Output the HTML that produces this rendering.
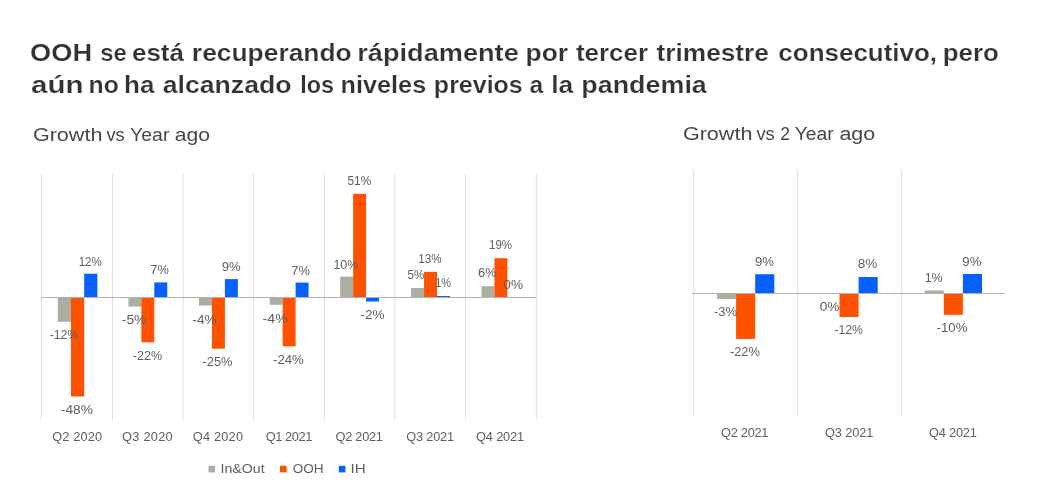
<!DOCTYPE html>
<html><head><meta charset="utf-8"><style>
html,body{margin:0;padding:0;background:#fff;}
body{width:1039px;height:500px;overflow:hidden;position:relative;font-family:"Liberation Sans",sans-serif;}
svg{position:absolute;left:0;top:0;will-change:transform;}
text{font-family:"Liberation Sans",sans-serif;}
</style></head><body>
<svg width="1039" height="500" viewBox="0 0 1039 500">
<text x="30.11" y="60.60" font-size="24.5" font-weight="bold" fill="#333333" textLength="61.93" lengthAdjust="spacingAndGlyphs" stroke="#fff" stroke-width="0.2">OOH</text>
<text x="100.17" y="60.60" font-size="24.5" font-weight="bold" fill="#333333" textLength="26.53" lengthAdjust="spacingAndGlyphs" stroke="#fff" stroke-width="0.2">se</text>
<text x="131.96" y="60.60" font-size="24.5" font-weight="bold" fill="#333333" textLength="51.95" lengthAdjust="spacingAndGlyphs" stroke="#fff" stroke-width="0.2">está</text>
<text x="191.88" y="60.60" font-size="24.5" font-weight="bold" fill="#333333" textLength="159.83" lengthAdjust="spacingAndGlyphs" stroke="#fff" stroke-width="0.2">recuperando</text>
<text x="357.23" y="60.60" font-size="24.5" font-weight="bold" fill="#333333" textLength="161.56" lengthAdjust="spacingAndGlyphs" stroke="#fff" stroke-width="0.2">rápidamente</text>
<text x="525.58" y="60.60" font-size="24.5" font-weight="bold" fill="#333333" textLength="42.54" lengthAdjust="spacingAndGlyphs" stroke="#fff" stroke-width="0.2">por</text>
<text x="575.94" y="60.60" font-size="24.5" font-weight="bold" fill="#333333" textLength="72.04" lengthAdjust="spacingAndGlyphs" stroke="#fff" stroke-width="0.2">tercer</text>
<text x="656.54" y="60.60" font-size="24.5" font-weight="bold" fill="#333333" textLength="112.38" lengthAdjust="spacingAndGlyphs" stroke="#fff" stroke-width="0.2">trimestre</text>
<text x="778.36" y="60.60" font-size="24.5" font-weight="bold" fill="#333333" textLength="158.70" lengthAdjust="spacingAndGlyphs" stroke="#fff" stroke-width="0.2">consecutivo,</text>
<text x="942.72" y="60.60" font-size="24.5" font-weight="bold" fill="#333333" textLength="56.17" lengthAdjust="spacingAndGlyphs" stroke="#fff" stroke-width="0.2">pero</text>
<text x="31.01" y="93.00" font-size="24.5" font-weight="bold" fill="#333333" textLength="52.55" lengthAdjust="spacingAndGlyphs" stroke="#fff" stroke-width="0.2">aún</text>
<text x="88.59" y="93.00" font-size="24.5" font-weight="bold" fill="#333333" textLength="30.24" lengthAdjust="spacingAndGlyphs" stroke="#fff" stroke-width="0.2">no</text>
<text x="123.98" y="93.00" font-size="24.5" font-weight="bold" fill="#333333" textLength="30.42" lengthAdjust="spacingAndGlyphs" stroke="#fff" stroke-width="0.2">ha</text>
<text x="162.70" y="93.00" font-size="24.5" font-weight="bold" fill="#333333" textLength="128.87" lengthAdjust="spacingAndGlyphs" stroke="#fff" stroke-width="0.2">alcanzado</text>
<text x="300.16" y="93.00" font-size="24.5" font-weight="bold" fill="#333333" textLength="33.77" lengthAdjust="spacingAndGlyphs" stroke="#fff" stroke-width="0.2">los</text>
<text x="340.56" y="93.00" font-size="24.5" font-weight="bold" fill="#333333" textLength="85.68" lengthAdjust="spacingAndGlyphs" stroke="#fff" stroke-width="0.2">niveles</text>
<text x="433.88" y="93.00" font-size="24.5" font-weight="bold" fill="#333333" textLength="88.88" lengthAdjust="spacingAndGlyphs" stroke="#fff" stroke-width="0.2">previos</text>
<text x="529.46" y="93.00" font-size="24.5" font-weight="bold" fill="#333333" textLength="13.72" lengthAdjust="spacingAndGlyphs" stroke="#fff" stroke-width="0.2">a</text>
<text x="551.15" y="93.00" font-size="24.5" font-weight="bold" fill="#333333" textLength="22.06" lengthAdjust="spacingAndGlyphs" stroke="#fff" stroke-width="0.2">la</text>
<text x="581.35" y="93.00" font-size="24.5" font-weight="bold" fill="#333333" textLength="125.46" lengthAdjust="spacingAndGlyphs" stroke="#fff" stroke-width="0.2">pandemia</text>
<text x="32.92" y="140.60" font-size="17.6" fill="#474747" textLength="69.55" lengthAdjust="spacingAndGlyphs">Growth</text>
<text x="106.41" y="140.60" font-size="17.6" fill="#474747" textLength="18.33" lengthAdjust="spacingAndGlyphs">vs</text>
<text x="130.11" y="140.60" font-size="17.6" fill="#474747" textLength="39.29" lengthAdjust="spacingAndGlyphs">Year</text>
<text x="174.65" y="140.60" font-size="17.6" fill="#474747" textLength="35.27" lengthAdjust="spacingAndGlyphs">ago</text>
<text x="682.92" y="140.00" font-size="17.6" fill="#474747" textLength="69.55" lengthAdjust="spacingAndGlyphs">Growth</text>
<text x="756.41" y="140.00" font-size="17.6" fill="#474747" textLength="18.33" lengthAdjust="spacingAndGlyphs">vs</text>
<text x="780.22" y="140.00" font-size="17.6" fill="#474747" textLength="9.78" lengthAdjust="spacingAndGlyphs">2</text>
<text x="794.72" y="140.00" font-size="17.6" fill="#474747" textLength="39.09" lengthAdjust="spacingAndGlyphs">Year</text>
<text x="839.43" y="140.00" font-size="17.6" fill="#474747" textLength="35.80" lengthAdjust="spacingAndGlyphs">ago</text>
<rect x="40.80" y="174" width="1" height="246" fill="#E0E0E0"/>
<rect x="112.00" y="174" width="1" height="246" fill="#E0E0E0"/>
<rect x="182.50" y="174" width="1" height="246" fill="#E0E0E0"/>
<rect x="253.00" y="174" width="1" height="246" fill="#E0E0E0"/>
<rect x="324.00" y="174" width="1" height="246" fill="#E0E0E0"/>
<rect x="394.30" y="174" width="1" height="246" fill="#E0E0E0"/>
<rect x="465.00" y="174" width="1" height="246" fill="#E0E0E0"/>
<rect x="535.80" y="174" width="1" height="246" fill="#E0E0E0"/>
<rect x="57.80" y="297.30" width="13.20" height="24.50" fill="#ABAEA0"/>
<rect x="71.00" y="297.30" width="13.20" height="99.20" fill="#FE5200"/>
<rect x="84.20" y="273.70" width="13.20" height="23.60" fill="#0560FC"/>
<rect x="128.40" y="297.30" width="12.95" height="9.30" fill="#ABAEA0"/>
<rect x="141.35" y="297.30" width="12.95" height="45.00" fill="#FE5200"/>
<rect x="154.30" y="282.40" width="12.95" height="14.90" fill="#0560FC"/>
<rect x="199.00" y="297.30" width="12.95" height="8.20" fill="#ABAEA0"/>
<rect x="211.95" y="297.30" width="12.95" height="51.40" fill="#FE5200"/>
<rect x="224.90" y="279.10" width="12.95" height="18.20" fill="#0560FC"/>
<rect x="269.70" y="297.30" width="12.95" height="7.50" fill="#ABAEA0"/>
<rect x="282.65" y="297.30" width="12.95" height="49.00" fill="#FE5200"/>
<rect x="295.60" y="282.60" width="12.95" height="14.70" fill="#0560FC"/>
<rect x="340.20" y="276.60" width="12.95" height="20.70" fill="#ABAEA0"/>
<rect x="353.15" y="193.90" width="12.95" height="103.40" fill="#FE5200"/>
<rect x="366.10" y="297.30" width="12.95" height="4.20" fill="#0560FC"/>
<rect x="411.10" y="288.00" width="12.95" height="9.30" fill="#ABAEA0"/>
<rect x="424.05" y="271.90" width="12.95" height="25.40" fill="#FE5200"/>
<rect x="437.00" y="296.00" width="12.95" height="1.30" fill="#0560FC"/>
<rect x="481.50" y="286.20" width="12.95" height="11.10" fill="#ABAEA0"/>
<rect x="494.45" y="258.20" width="12.95" height="39.10" fill="#FE5200"/>
<rect x="693.10" y="169.5" width="1" height="246" fill="#E0E0E0"/>
<rect x="797.10" y="169.5" width="1" height="246" fill="#E0E0E0"/>
<rect x="901.10" y="169.5" width="1" height="246" fill="#E0E0E0"/>
<rect x="717.00" y="293.30" width="19.10" height="5.70" fill="#ABAEA0"/>
<rect x="736.10" y="293.30" width="19.10" height="45.60" fill="#FE5200"/>
<rect x="755.20" y="274.20" width="19.10" height="19.10" fill="#0560FC"/>
<rect x="839.50" y="293.30" width="19.10" height="23.70" fill="#FE5200"/>
<rect x="858.60" y="277.00" width="19.10" height="16.30" fill="#0560FC"/>
<rect x="924.70" y="290.50" width="19.10" height="2.80" fill="#ABAEA0"/>
<rect x="943.80" y="293.30" width="19.10" height="21.50" fill="#FE5200"/>
<rect x="962.90" y="274.00" width="19.10" height="19.30" fill="#0560FC"/>
<rect x="41" y="297" width="495.5" height="1" fill="#B2B2B2"/>
<rect x="692.2" y="293" width="312.6" height="1" fill="#B2B2B2"/>
<text x="49.65" y="339.40" font-size="12.2" fill="#5e5e5e" textLength="28.37" lengthAdjust="spacingAndGlyphs">-12%</text>
<text x="60.88" y="414.00" font-size="12.2" fill="#5e5e5e" textLength="32.09" lengthAdjust="spacingAndGlyphs">-48%</text>
<text x="78.64" y="265.50" font-size="12.2" fill="#5e5e5e" textLength="22.98" lengthAdjust="spacingAndGlyphs">12%</text>
<text x="121.78" y="324.00" font-size="12.2" fill="#5e5e5e" textLength="24.69" lengthAdjust="spacingAndGlyphs">-5%</text>
<text x="132.84" y="359.60" font-size="12.2" fill="#5e5e5e" textLength="29.30" lengthAdjust="spacingAndGlyphs">-22%</text>
<text x="150.36" y="274.40" font-size="12.2" fill="#5e5e5e" textLength="18.49" lengthAdjust="spacingAndGlyphs">7%</text>
<text x="192.39" y="323.50" font-size="12.2" fill="#5e5e5e" textLength="24.06" lengthAdjust="spacingAndGlyphs">-4%</text>
<text x="202.42" y="365.90" font-size="12.2" fill="#5e5e5e" textLength="30.13" lengthAdjust="spacingAndGlyphs">-25%</text>
<text x="221.71" y="271.10" font-size="12.2" fill="#5e5e5e" textLength="18.95" lengthAdjust="spacingAndGlyphs">9%</text>
<text x="262.56" y="322.80" font-size="12.2" fill="#5e5e5e" textLength="25.21" lengthAdjust="spacingAndGlyphs">-4%</text>
<text x="273.01" y="364.40" font-size="12.2" fill="#5e5e5e" textLength="30.85" lengthAdjust="spacingAndGlyphs">-24%</text>
<text x="291.35" y="274.70" font-size="12.2" fill="#5e5e5e" textLength="18.70" lengthAdjust="spacingAndGlyphs">7%</text>
<text x="333.47" y="268.80" font-size="12.2" fill="#5e5e5e" textLength="24.78" lengthAdjust="spacingAndGlyphs">10%</text>
<text x="347.42" y="185.10" font-size="12.2" fill="#5e5e5e" textLength="23.81" lengthAdjust="spacingAndGlyphs">51%</text>
<text x="360.39" y="318.80" font-size="12.2" fill="#5e5e5e" textLength="24.06" lengthAdjust="spacingAndGlyphs">-2%</text>
<text x="407.53" y="279.20" font-size="12.2" fill="#5e5e5e" textLength="16.88" lengthAdjust="spacingAndGlyphs">5%</text>
<text x="418.32" y="262.70" font-size="12.2" fill="#5e5e5e" textLength="23.40" lengthAdjust="spacingAndGlyphs">13%</text>
<text x="435.17" y="286.90" font-size="12.2" fill="#5e5e5e" textLength="15.91" lengthAdjust="spacingAndGlyphs">1%</text>
<text x="478.06" y="276.70" font-size="12.2" fill="#5e5e5e" textLength="18.60" lengthAdjust="spacingAndGlyphs">6%</text>
<text x="489.04" y="249.10" font-size="12.2" fill="#5e5e5e" textLength="22.98" lengthAdjust="spacingAndGlyphs">19%</text>
<text x="503.35" y="288.70" font-size="12.2" fill="#5e5e5e" textLength="19.94" lengthAdjust="spacingAndGlyphs">0%</text>
<text x="714.01" y="316.40" font-size="12.2" fill="#5e5e5e" textLength="23.22" lengthAdjust="spacingAndGlyphs">-3%</text>
<text x="729.92" y="356.30" font-size="12.2" fill="#5e5e5e" textLength="30.02" lengthAdjust="spacingAndGlyphs">-22%</text>
<text x="754.91" y="266.00" font-size="12.2" fill="#5e5e5e" textLength="19.06" lengthAdjust="spacingAndGlyphs">9%</text>
<text x="819.65" y="311.20" font-size="12.2" fill="#5e5e5e" textLength="19.94" lengthAdjust="spacingAndGlyphs">0%</text>
<text x="834.45" y="333.70" font-size="12.2" fill="#5e5e5e" textLength="28.47" lengthAdjust="spacingAndGlyphs">-12%</text>
<text x="857.79" y="268.40" font-size="12.2" fill="#5e5e5e" textLength="19.59" lengthAdjust="spacingAndGlyphs">8%</text>
<text x="924.67" y="281.50" font-size="12.2" fill="#5e5e5e" textLength="17.97" lengthAdjust="spacingAndGlyphs">1%</text>
<text x="936.61" y="331.90" font-size="12.2" fill="#5e5e5e" textLength="30.85" lengthAdjust="spacingAndGlyphs">-10%</text>
<text x="962.31" y="266.20" font-size="12.2" fill="#5e5e5e" textLength="19.06" lengthAdjust="spacingAndGlyphs">9%</text>
<text x="52.22" y="440.80" font-size="12.8" fill="#5e5e5e" textLength="49.81" lengthAdjust="spacing">Q2 2020</text>
<text x="122.12" y="440.80" font-size="12.8" fill="#5e5e5e" textLength="50.51" lengthAdjust="spacing">Q3 2020</text>
<text x="192.82" y="440.80" font-size="12.8" fill="#5e5e5e" textLength="50.21" lengthAdjust="spacing">Q4 2020</text>
<text x="265.72" y="440.80" font-size="12.8" fill="#5e5e5e" textLength="46.54" lengthAdjust="spacing">Q1 2021</text>
<text x="335.52" y="440.80" font-size="12.8" fill="#5e5e5e" textLength="47.43" lengthAdjust="spacing">Q2 2021</text>
<text x="406.22" y="440.80" font-size="12.8" fill="#5e5e5e" textLength="47.93" lengthAdjust="spacing">Q3 2021</text>
<text x="476.02" y="440.80" font-size="12.8" fill="#5e5e5e" textLength="48.13" lengthAdjust="spacing">Q4 2021</text>
<text x="721.02" y="436.80" font-size="12.8" fill="#5e5e5e" textLength="47.43" lengthAdjust="spacing">Q2 2021</text>
<text x="825.02" y="436.80" font-size="12.8" fill="#5e5e5e" textLength="48.23" lengthAdjust="spacing">Q3 2021</text>
<text x="928.92" y="436.80" font-size="12.8" fill="#5e5e5e" textLength="47.94" lengthAdjust="spacing">Q4 2021</text>
<rect x="208.5" y="465.8" width="6.6" height="6.6" fill="#ABAEA0"/>
<text x="220.52" y="472.90" font-size="12.0" fill="#5e5e5e" textLength="44.19" lengthAdjust="spacingAndGlyphs">In&amp;Out</text>
<rect x="280" y="465.8" width="6.6" height="6.6" fill="#FE5200"/>
<text x="292.69" y="472.90" font-size="12.0" fill="#5e5e5e" textLength="30.83" lengthAdjust="spacingAndGlyphs">OOH</text>
<rect x="338.8" y="465.8" width="6.6" height="6.6" fill="#0560FC"/>
<text x="350.53" y="472.90" font-size="12.0" fill="#5e5e5e" textLength="15.18" lengthAdjust="spacingAndGlyphs">IH</text>
</svg>
</body></html>
